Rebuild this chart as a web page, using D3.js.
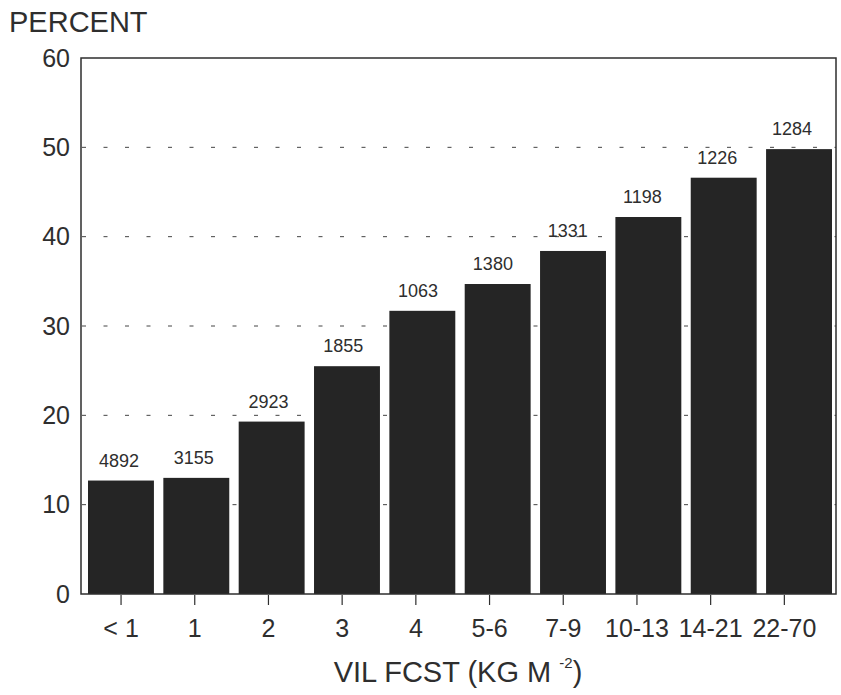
<!DOCTYPE html>
<html>
<head>
<meta charset="utf-8">
<script src="https://cdn.jsdelivr.net/npm/d3@7"></script>
<style>
  html, body { margin: 0; padding: 0; background: #fff; }
  svg { display: block; font-family: "Liberation Sans", Arial, sans-serif; }
</style>
</head>
<body>
<svg id="chart" width="841" height="695"></svg>
<script>
// ---- data ----
const categories = ["< 1", "1", "2", "3", "4", "5-6", "7-9", "10-13", "14-21", "22-70"];
const percentValues = [12.7, 13.0, 19.3, 25.5, 31.7, 34.7, 38.4, 42.2, 46.6, 49.8];
const sampleCounts = [4892, 3155, 2923, 1855, 1063, 1380, 1331, 1198, 1226, 1284];
const yTicks = [0, 10, 20, 30, 40, 50, 60];
const gridValues = [10, 20, 30, 40, 50];

// ---- layout ----
const plotLeft = 81, plotRight = 836, plotTop = 58, plotBottom = 594;
const ink = "#2e2e2e";
const barFill = "#252525";

const svg = d3.select("#chart");

// bars scale
const x = d3.scaleBand()
  .domain(categories)
  .range([88, 832])
  .paddingInner(0.125)
  .paddingOuter(0);

// tick / category label scale (original ticks are spaced slightly tighter than the bars)
const xTick = d3.scaleBand()
  .domain(categories)
  .range([84.2, 821.2])
  .padding(0);

// count label scale
const xLab = d3.scaleBand()
  .domain(categories)
  .range([81.6, 829.4])
  .padding(0);

const y = d3.scaleLinear().domain([0, 60]).range([plotBottom, plotTop]);

// gridlines (behind bars)
svg.append("g").selectAll("line")
  .data(gridValues)
  .join("line")
  .attr("x1", plotLeft + 1)
  .attr("x2", plotRight)
  .attr("y1", d => y(d))
  .attr("y2", d => y(d))
  .attr("stroke", "#444")
  .attr("stroke-width", 1)
  .attr("stroke-dasharray", "4,17.5");

// bars
const data = categories.map((c, i) => ({ c, v: percentValues[i], n: sampleCounts[i] }));
svg.append("g").selectAll("rect")
  .data(data)
  .join("rect")
  .attr("x", d => x(d.c))
  .attr("y", d => y(d.v))
  .attr("width", x.bandwidth())
  .attr("height", d => y(0) - y(d.v))
  .attr("fill", barFill);

// count labels
svg.append("g").selectAll("text")
  .data(data)
  .join("text")
  .attr("x", d => xLab(d.c) + xLab.bandwidth() / 2)
  .attr("y", d => y(d.v) - 14)
  .attr("text-anchor", "middle")
  .attr("font-size", 18)
  .attr("fill", ink)
  .text(d => d.n);

// frame
svg.append("rect")
  .attr("x", plotLeft)
  .attr("y", plotTop)
  .attr("width", plotRight - plotLeft)
  .attr("height", plotBottom - plotTop)
  .attr("fill", "none")
  .attr("stroke", ink)
  .attr("stroke-width", 1.5);

// x axis
const xAxis = svg.append("g")
  .attr("transform", `translate(0,${plotBottom})`)
  .call(d3.axisBottom(xTick).tickSize(11).tickPadding(14));
xAxis.select(".domain").remove();
xAxis.selectAll(".tick line").attr("stroke", ink).attr("stroke-width", 1.2).attr("y1", 1);
xAxis.selectAll(".tick text")
  .attr("font-size", 25)
  .attr("font-family", "Liberation Sans, Arial, sans-serif")
  .attr("fill", ink);

// y axis
const yAxis = svg.append("g")
  .attr("transform", `translate(${plotLeft},0)`)
  .call(d3.axisLeft(y).tickValues(yTicks).tickSize(0).tickPadding(11));
yAxis.select(".domain").remove();
yAxis.selectAll(".tick text")
  .attr("font-size", 25)
  .attr("font-family", "Liberation Sans, Arial, sans-serif")
  .attr("fill", ink);

// y title
svg.append("text")
  .attr("x", 9)
  .attr("y", 32)
  .attr("font-size", 29)
  .attr("fill", ink)
  .text("PERCENT");

// x title
const xt = svg.append("text")
  .attr("x", 458)
  .attr("y", 682)
  .attr("text-anchor", "middle")
  .attr("font-size", 29)
  .attr("fill", ink);
xt.append("tspan").text("VIL FCST (KG M ");
xt.append("tspan").attr("font-size", 15).attr("dy", -14).text("-2");
xt.append("tspan").attr("dy", 14).text(")");
</script>
</body>
</html>
